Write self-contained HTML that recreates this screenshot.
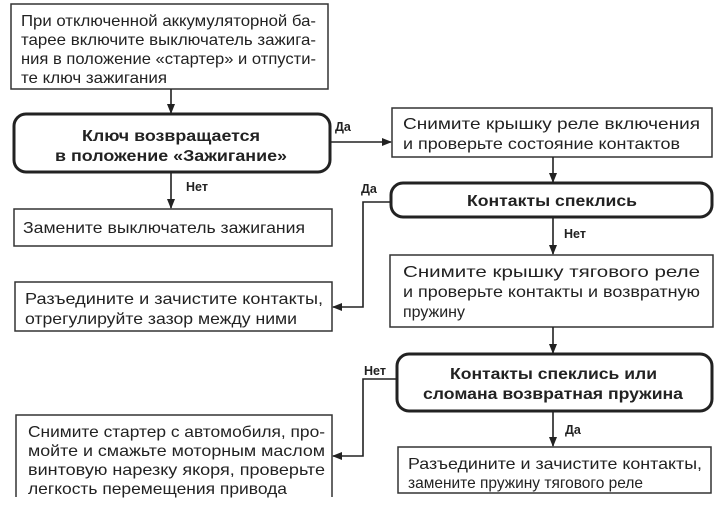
<!DOCTYPE html>
<html><head><meta charset="utf-8"><style>
html,body{margin:0;padding:0;background:#fff}
svg{display:block}
text{font-family:"Liberation Sans","Noto Sans CJK SC",sans-serif;fill:#222}
.t{font-size:16px}
.b{font-size:15.5px;font-weight:bold}
.l{font-size:12.5px;font-weight:bold}
</style></head><body>
<svg width="725" height="507" viewBox="0 0 725 507" xmlns="http://www.w3.org/2000/svg">
<defs><marker id="a" markerWidth="10" markerHeight="10" refX="9" refY="5" orient="auto" markerUnits="userSpaceOnUse"><path d="M0,1 L10,5 L0,9 Z" fill="#222"/></marker></defs>
<g fill="none" stroke="#333" stroke-width="1.5">
<rect x="11" y="4" width="317" height="85"/>
<rect x="14" y="209" width="318" height="37"/>
<rect x="15" y="282" width="317" height="49"/>
<path d="M16,497 V415 H332 V497"/>
<rect x="392" y="108" width="320" height="49"/>
<rect x="390" y="255" width="323" height="72"/>
<rect x="398" y="447" width="313" height="46"/>
</g>
<g fill="none" stroke="#222" stroke-width="3">
<rect x="14" y="114" width="316" height="58" rx="12"/>
<rect x="391" y="183" width="321" height="34" rx="12"/>
<rect x="397" y="354" width="315" height="57" rx="12"/>
</g>
<g fill="none" stroke="#222" stroke-width="1.6" marker-end="url(#a)">
<path d="M171,89 V113"/>
<path d="M171,172 V208"/>
<path d="M330,142 H391"/>
<path d="M553,157 V182"/>
<path d="M391,202 H363 V307 H333"/>
<path d="M553,217 V254"/>
<path d="M553,327 V353"/>
<path d="M397,379 H363 V456 H333"/>
<path d="M553,411 V446"/>
</g>
<text class="t" x="21" y="26" textLength="295" lengthAdjust="spacingAndGlyphs">При отключенной аккумуляторной ба-</text>
<text class="t" x="21" y="45" textLength="295" lengthAdjust="spacingAndGlyphs">тарее включите выключатель зажига-</text>
<text class="t" x="21" y="64" textLength="295" lengthAdjust="spacingAndGlyphs">ния в положение «стартер» и отпусти-</text>
<text class="t" x="21" y="83" textLength="146" lengthAdjust="spacingAndGlyphs">те ключ зажигания</text>
<text class="b" x="82" y="141" textLength="178" lengthAdjust="spacingAndGlyphs">Ключ возвращается</text>
<text class="b" x="55" y="161" textLength="232" lengthAdjust="spacingAndGlyphs">в положение «Зажигание»</text>
<text class="l" x="186" y="191">Нет</text>
<text class="l" x="335" y="131">Да</text>
<text class="t" x="23" y="233" textLength="282" lengthAdjust="spacingAndGlyphs">Замените выключатель зажигания</text>
<text class="t" x="403" y="129" textLength="297" lengthAdjust="spacingAndGlyphs">Снимите крышку реле включения</text>
<text class="t" x="403" y="149" textLength="277" lengthAdjust="spacingAndGlyphs">и проверьте состояние контактов</text>
<text class="b" x="467" y="206" textLength="170" lengthAdjust="spacingAndGlyphs">Контакты спеклись</text>
<text class="l" x="361" y="193">Да</text>
<text class="l" x="564" y="238">Нет</text>
<text class="t" x="403" y="277" textLength="297" lengthAdjust="spacingAndGlyphs">Снимите крышку тягового реле</text>
<text class="t" x="403" y="297" textLength="297" lengthAdjust="spacingAndGlyphs">и проверьте контакты и возвратную</text>
<text class="t" x="403" y="317" textLength="62" lengthAdjust="spacingAndGlyphs">пружину</text>
<text class="t" x="25" y="304" textLength="298" lengthAdjust="spacingAndGlyphs">Разъедините и зачистите контакты,</text>
<text class="t" x="25" y="324" textLength="272" lengthAdjust="spacingAndGlyphs">отрегулируйте зазор между ними</text>
<text class="b" x="450" y="379" textLength="207" lengthAdjust="spacingAndGlyphs">Контакты спеклись или</text>
<text class="b" x="423" y="399" textLength="260" lengthAdjust="spacingAndGlyphs">сломана возвратная пружина</text>
<text class="l" x="364" y="375">Нет</text>
<text class="l" x="565" y="434">Да</text>
<text class="t" x="408" y="469" textLength="294" lengthAdjust="spacingAndGlyphs">Разъедините и зачистите контакты,</text>
<text class="t" x="408" y="488" textLength="235" lengthAdjust="spacingAndGlyphs">замените пружину тягового реле</text>
<text class="t" x="28" y="437" textLength="297" lengthAdjust="spacingAndGlyphs">Снимите стартер с автомобиля, про-</text>
<text class="t" x="28" y="456" textLength="297" lengthAdjust="spacingAndGlyphs">мойте и смажьте моторным маслом</text>
<text class="t" x="28" y="475" textLength="297" lengthAdjust="spacingAndGlyphs">винтовую нарезку якоря, проверьте</text>
<text class="t" x="28" y="494" textLength="259" lengthAdjust="spacingAndGlyphs">легкость перемещения привода</text>
</svg>
</body></html>
